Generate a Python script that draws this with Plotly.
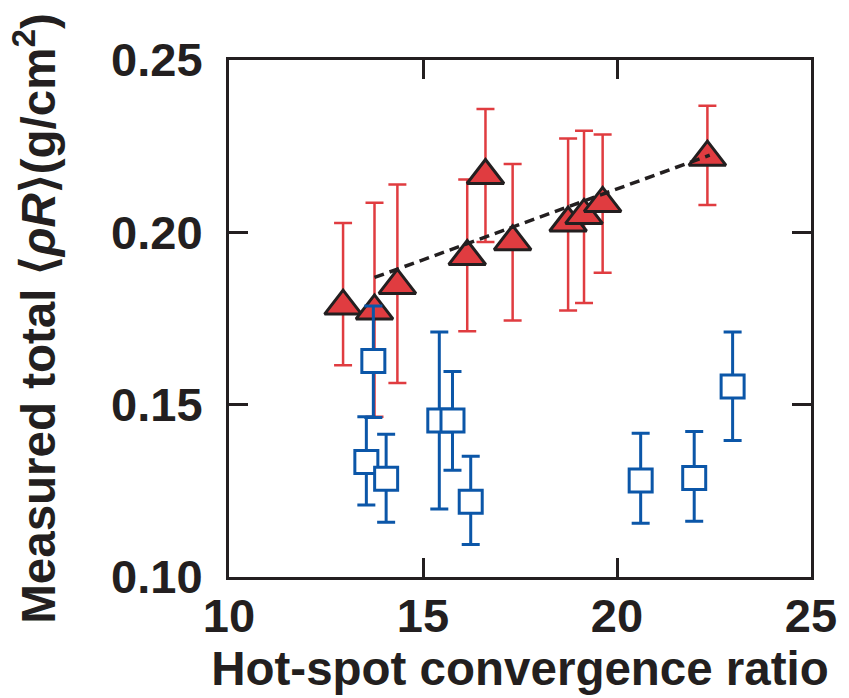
import plotly.graph_objects as go

# Red triangles (total rhoR, first data set)
red_x = [12.94, 13.75, 14.34, 16.14, 16.61, 17.31, 18.74, 19.15, 19.63, 22.33]
red_y = [0.1786, 0.1772, 0.1846, 0.1930, 0.2165, 0.1973, 0.2027, 0.2049, 0.2084, 0.2218]
red_hi = [0.2027, 0.2086, 0.2139, 0.2153, 0.2358, 0.2198, 0.2272, 0.2295, 0.2284, 0.2367]
red_lo = [0.1614, 0.1465, 0.1563, 0.1713, 0.1972, 0.1744, 0.1773, 0.1795, 0.1883, 0.2079]

# Blue open squares (second data set)
blue_x = [13.72, 13.54, 14.05, 15.42, 15.76, 16.23, 20.61, 21.99, 22.98]
blue_y = [0.1627, 0.1334, 0.1285, 0.1454, 0.1454, 0.1218, 0.1280, 0.1287, 0.1553]
blue_hi = [0.1786, 0.1465, 0.1414, 0.1711, 0.1596, 0.1350, 0.1417, 0.1422, 0.1711]
blue_lo = [0.1463, 0.1209, 0.1159, 0.1197, 0.1310, 0.1094, 0.1156, 0.1162, 0.1396]

# Dashed linear fit through red points
fit_x = [13.75, 22.39]
fit_y = [0.1869, 0.2224]

x_ticks = [10, 15, 20, 25]
y_ticks = [0.10, 0.15, 0.20, 0.25]

RED = "#e03c40"
BLUE = "#0b56a8"
INK = "#231f20"
FONT = "Liberation Sans, Arial, Helvetica, sans-serif"

fig = go.Figure()

fig.add_trace(go.Scatter(
    x=red_x, y=red_y, mode="markers",
    marker=dict(symbol="triangle-up", size=32, color=RED,
                line=dict(color=INK, width=3)),
    error_y=dict(type="data", symmetric=False,
                 array=[h - y for h, y in zip(red_hi, red_y)],
                 arrayminus=[y - l for y, l in zip(red_y, red_lo)],
                 color=RED, thickness=2.5, width=9),
    showlegend=False,
))

fig.add_trace(go.Scatter(
    x=fit_x, y=fit_y, mode="lines",
    line=dict(color=INK, width=3.5, dash="10px,6px"),
    showlegend=False,
))

fig.add_trace(go.Scatter(
    x=blue_x, y=blue_y, mode="markers",
    marker=dict(symbol="square", size=23, color="white",
                line=dict(color=BLUE, width=3)),
    error_y=dict(type="data", symmetric=False,
                 array=[h - y for h, y in zip(blue_hi, blue_y)],
                 arrayminus=[y - l for y, l in zip(blue_y, blue_lo)],
                 color=BLUE, thickness=3, width=9),
    showlegend=False,
))

axis_common = dict(
    showline=True, linewidth=3, linecolor=INK, mirror="ticks",
    ticks="inside", ticklen=19, tickwidth=3, tickcolor=INK,
    showgrid=False, zeroline=False,
    tickfont=dict(family=FONT, size=47, color=INK, weight="bold"),
)

fig.update_layout(
    width=849, height=698,
    margin=dict(l=229, r=36, t=60, b=121),
    paper_bgcolor="white", plot_bgcolor="white",
    font=dict(family=FONT, color=INK),
    xaxis=dict(range=[10, 25], tickvals=x_ticks, ticktext=[str(v) for v in x_ticks],
               ticklabelstandoff=-4,
               title=dict(text="<b>Hot-spot convergence ratio</b>",
                          font=dict(size=47.5, color=INK), standoff=10),
               **axis_common),
    yaxis=dict(range=[0.10, 0.25], tickvals=y_ticks, ticktext=[f"{v:.2f}" for v in y_ticks],
               ticklabelstandoff=14,
               title=dict(text="<b>Measured total ⟨<i>ρR</i>⟩(g/cm<sup>2</sup>)</b>",
                          font=dict(size=47.5, color=INK), standoff=41),
               **axis_common),
)

fig.write_html("out.html")
